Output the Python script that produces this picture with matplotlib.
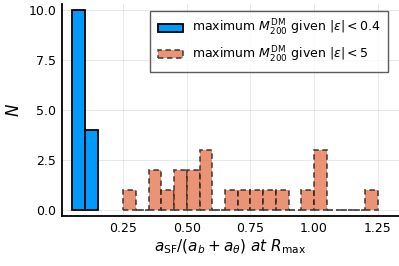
import matplotlib
matplotlib.use("Agg")
import matplotlib.pyplot as plt
import numpy as np

# histogram data (bin width 0.05)
blue_edges = [0.05, 0.10, 0.15]
blue_counts = [10, 4]

orange_start = 0.25
orange_width = 0.05
orange_counts = [1, 0, 2, 1, 2, 2, 3, 0, 1, 1, 1, 1, 1, 0, 1, 3, 0, 0, 0, 1]

xticks = [0.25, 0.50, 0.75, 1.00, 1.25]
yticks = [0.0, 2.5, 5.0, 7.5, 10.0]

blue = "#009AFA"
orange = "#E36F47"

fig = plt.figure(figsize=(3.99, 2.66), dpi=100)
ax = fig.add_axes([0.155, 0.188, 0.845, 0.797])

orange_left = orange_start + orange_width * np.arange(len(orange_counts))

ax.bar(blue_edges[:-1], blue_counts, width=np.diff(blue_edges), align="edge",
       color=blue, edgecolor="black", linewidth=1.3,
       label=r"maximum $M_{200}^{\rm DM}$ given $|\varepsilon| < 0.4$", zorder=3)
ax.bar(orange_left, orange_counts, width=orange_width, align="edge",
       color=orange, alpha=0.75, edgecolor="#222222", linewidth=1.3,
       linestyle=(0, (3, 2)),
       label=r"maximum $M_{200}^{\rm DM}$ given $|\varepsilon| < 5$", zorder=3)

ax.set_xlim(0.009, 1.334)
ax.set_ylim(-0.3, 10.3)
ax.set_xticks(xticks)
ax.set_xticklabels(["0.25", "0.50", "0.75", "1.00", "1.25"])
ax.set_yticks(yticks)
ax.set_yticklabels(["0.0", "2.5", "5.0", "7.5", "10.0"])
ax.tick_params(labelsize=9, length=0, pad=4)

ax.grid(True, color="black", alpha=0.1, linewidth=0.6, zorder=0)
ax.set_axisbelow(True)
for s in ["top", "right"]:
    ax.spines[s].set_visible(False)
for s in ["left", "bottom"]:
    ax.spines[s].set_linewidth(1.3)

ax.set_xlabel(r"$a_{\rm SF}/(a_b + a_\theta)\ at\ R_{\rm max}$", fontsize=11, labelpad=2)
ax.set_ylabel(r"$N$", fontsize=12, labelpad=4)

leg = ax.legend(loc="upper right", bbox_to_anchor=(0.967, 0.968), borderaxespad=0,
                fontsize=9, frameon=True, fancybox=False, borderpad=0.6,
                labelspacing=0.5, handlelength=2.0, handleheight=0.6,
                handletextpad=0.7)
leg.get_frame().set_edgecolor("#333333")
leg.get_frame().set_linewidth(1.0)

fig.savefig("out.png", dpi=100)
